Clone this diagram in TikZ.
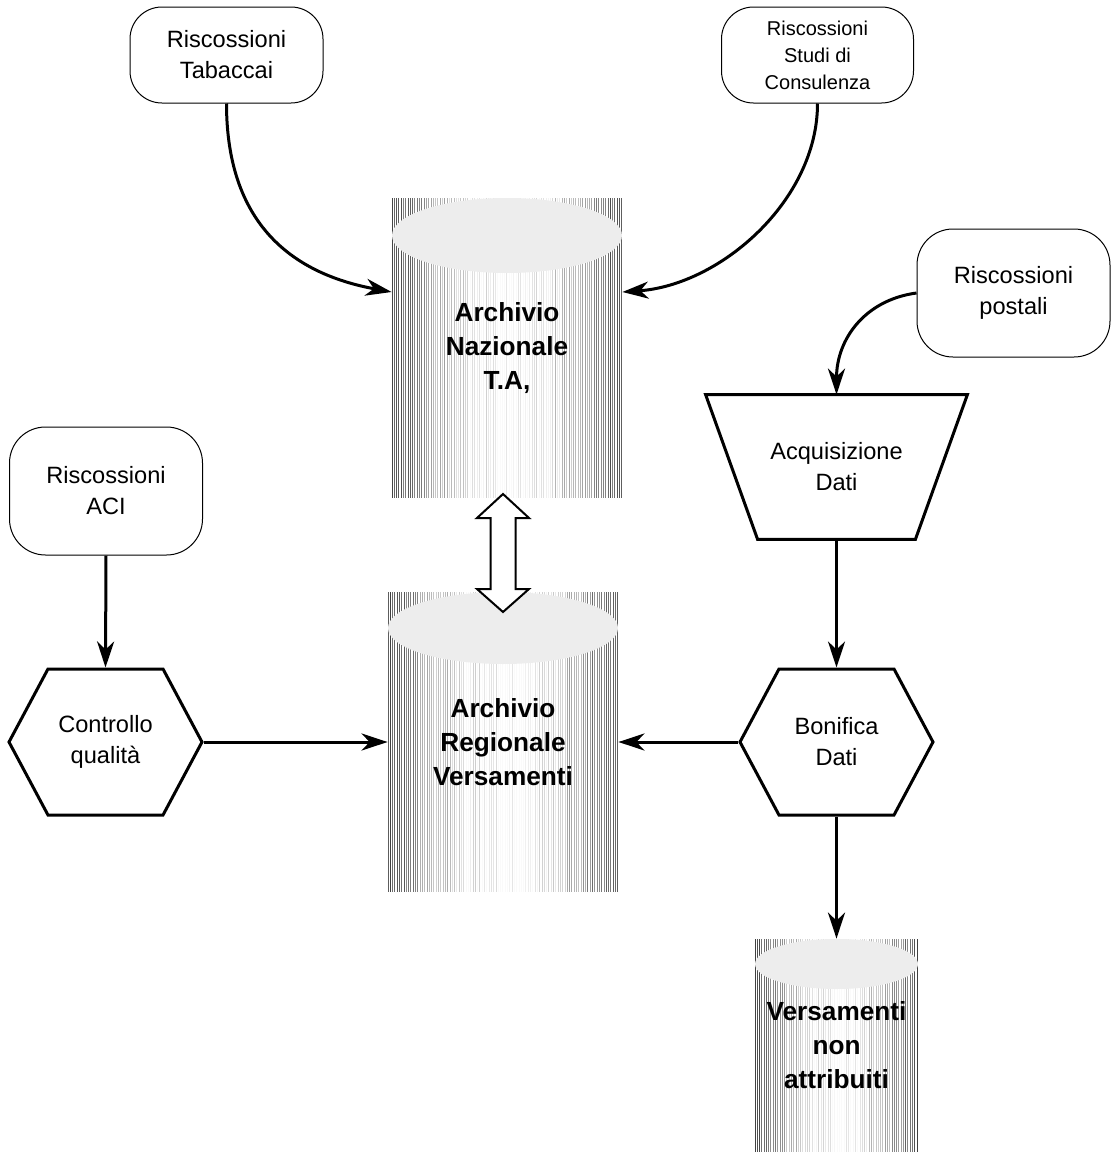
\documentclass[tikz,border=0pt]{standalone}
\usepackage{fontspec}
\setmainfont{Liberation Sans}
\usepackage{tikz}
\usetikzlibrary{arrows.meta,calc,shapes.symbols}

\newcommand\boxfont{\fontsize{11.8}{15.5}\selectfont}
\newcommand\smallboxfont{\fontsize{10}{13.5}\selectfont}
\newcommand\archfont{\fontsize{13.1}{17}\selectfont\bfseries}

\tikzset{
  source/.style={draw, line width=0.5pt, rectangle, rounded corners=16pt, align=center, font=\boxfont},
  process/.style={draw, line width=1.5pt, signal, signal to=west and east, signal pointer angle=123.8,
    minimum width=96.5pt, minimum height=73pt, inner sep=0pt, align=center, font=\boxfont},
  flow/.style={line width=1.5pt, -{Stealth[length=13pt,width=8.5pt,inset=4pt]}},
  archive/.style n args={4}{rectangle, minimum width=#1, minimum height=#2, inner sep=0pt, align=center, font=\archfont,
    path picture={
      \foreach \f in {0,#4,...,1.001}{
        \pgfmathsetmacro\s{max(2,min(75,4+66*abs(2*\f-1)^1.8+12*rand))}
        \draw[black!\s, line width=0.5pt] ($(path picture bounding box.north west)!\f!(path picture bounding box.north east)$) -- ($(path picture bounding box.south west)!\f!(path picture bounding box.south east)$);
      }
      \fill[black!7] ([yshift=-#3]path picture bounding box.north) ellipse [x radius=#1/2, y radius=#3];
    }}
}

\begin{document}
\begin{tikzpicture}[x=0.5pt,y=-0.5pt]
\pgfmathsetseed{42}
\useasboundingbox (0,0) rectangle (1112,1157);

\node[archive={115pt}{150pt}{18.75pt}{0.01}] (nazionale) at (507,348) {Archivio\\Nazionale\\T.A,};
\node[archive={115pt}{150pt}{18pt}{0.01}] (regionale) at (503,742) {Archivio\\Regionale\\Versamenti};
\node[archive={81.5pt}{106.5pt}{12.5pt}{0.014}] (nonattr) at (836.5,1045.5) {Versamenti\\non\\attribuiti};

\node[source, minimum width=96.5pt, minimum height=48pt] (tabaccai) at (226.5,55) {Riscossioni\\Tabaccai};
\node[source, minimum width=96pt, minimum height=48pt, font=\smallboxfont] (studi) at (817.5,55) {Riscossioni\\Studi di\\Consulenza};
\node[source, minimum width=96.5pt, minimum height=64pt, rounded corners=18pt] (postali) at (1013.5,293) {Riscossioni\\postali};
\node[source, minimum width=96.5pt, minimum height=64pt, rounded corners=18pt] (aci) at (106,491) {Riscossioni\\ACI};

\node[minimum width=130.5pt, minimum height=72pt, inner sep=0pt, align=center, font=\boxfont]
  (acquisizione) at (836.5,467) {Acquisizione\\Dati};
\draw[line width=1.5pt] (acquisizione.north west) -- (acquisizione.north east) -- ([xshift=-26pt]acquisizione.south east)
  -- ([xshift=26pt]acquisizione.south west) -- cycle;
\node[process] (controllo) at (105.5,742) {Controllo\\qualità};
\node[process] (bonifica) at (836.5,742) {Bonifica\\Dati};

\draw[flow] (tabaccai.south) .. controls +(0,127) and +(-92,-17) .. ([yshift=28pt]nazionale.west);
\draw[flow] (studi.south) .. controls +(0,97) and +(98,-7) .. ([yshift=28pt]nazionale.east);
\draw[flow] (postali.west) .. controls +(-52,7) and +(0,-55) .. (acquisizione.north);
\draw[flow] (aci.south) -- (controllo.north);
\draw[flow] (controllo.east) -- (regionale.west);
\draw[flow] (acquisizione.south) -- (bonifica.north);
\draw[flow] (bonifica.west) -- (regionale.east);
\draw[flow] (bonifica.south) -- (nonattr.north);

\coordinate (scambio) at (503,553);
\draw[line width=1pt, fill=white, shift={(scambio)}] (0,-59) -- (26,-35) -- (12.5,-35) -- (12.5,36) -- (26,36) -- (0,59)
  -- (-26,36) -- (-12.5,36) -- (-12.5,-35) -- (-26,-35) -- cycle;
\end{tikzpicture}
\end{document}
